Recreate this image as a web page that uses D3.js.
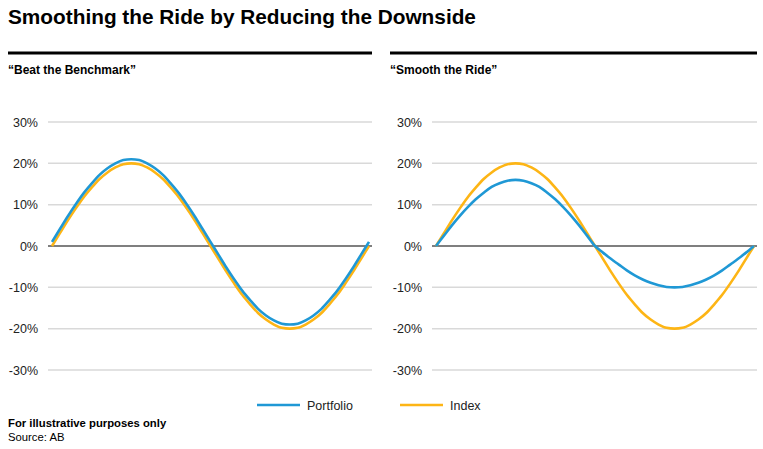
<!DOCTYPE html>
<html>
<head>
<meta charset="utf-8">
<script src="https://cdn.jsdelivr.net/npm/d3@7"></script>
<style>
  body { margin: 0; background: #fff; }
  text { font-family: "Liberation Sans", Arial, sans-serif; }
</style>
</head>
<body>
<svg id="chart" width="763" height="449"></svg>
<script>
// y ticks shared by both panels
var yTicks = [-30, -20, -10, 0, 10, 20, 30];

// left panel: "Beat the Benchmark"
var leftIndex = [0, 3.1, 6.2, 9.1, 11.8, 14.1, 16.2, 17.8, 19.0, 19.8, 20, 19.8, 19.0, 17.8, 16.2, 14.1, 11.8, 9.1, 6.2, 3.1,
  0, -3.1, -6.2, -9.1, -11.8, -14.1, -16.2, -17.8, -19.0, -19.8, -20, -19.8, -19.0, -17.8, -16.2, -14.1, -11.8, -9.1, -6.2, -3.1, 0];
var leftPortfolio = [1, 4.1, 7.2, 10.1, 12.8, 15.1, 17.2, 18.8, 20.0, 20.8, 21, 20.8, 20.0, 18.8, 17.2, 15.1, 12.8, 10.1, 7.2, 4.1,
  1, -2.1, -5.2, -8.1, -10.8, -13.1, -15.2, -16.8, -18.0, -18.8, -19, -18.8, -18.0, -16.8, -15.2, -13.1, -10.8, -8.1, -5.2, -2.1, 1];

// right panel: "Smooth the Ride"
var rightIndex = [0, 3.1, 6.2, 9.1, 11.8, 14.1, 16.2, 17.8, 19.0, 19.8, 20, 19.8, 19.0, 17.8, 16.2, 14.1, 11.8, 9.1, 6.2, 3.1,
  0, -3.1, -6.2, -9.1, -11.8, -14.1, -16.2, -17.8, -19.0, -19.8, -20, -19.8, -19.0, -17.8, -16.2, -14.1, -11.8, -9.1, -6.2, -3.1, 0];
var rightPortfolio = [0, 2.5, 5.0, 7.3, 9.4, 11.3, 12.9, 14.3, 15.2, 15.8, 16, 15.8, 15.2, 14.3, 12.9, 11.3, 9.4, 7.3, 5.0, 2.5,
  0, -1.6, -3.1, -4.5, -5.9, -7.1, -8.1, -8.9, -9.5, -9.9, -10, -9.9, -9.5, -8.9, -8.1, -7.1, -5.9, -4.5, -3.1, -1.6, 0];

var seriesNames = ["Portfolio", "Index"];
var blue = "#1f98d5", gold = "#fdb515";

var svg = d3.select("#chart");

svg.append("text")
    .attr("x", 8).attr("y", 24)
    .style("font-size", "20.8px").style("font-weight", "bold")
    .text("Smoothing the Ride by Reducing the Downside");

var y = d3.scaleLinear().domain([-30, 30]).range([370, 122]);

function panel(left, right, labelX, title, index, portfolio, ruleL, ruleR) {
  var g = svg.append("g");

  g.append("line")
      .attr("x1", ruleL).attr("x2", ruleR)
      .attr("y1", 53).attr("y2", 53)
      .style("stroke", "#000").style("stroke-width", 3);

  g.append("text")
      .attr("x", ruleL).attr("y", 74)
      .style("font-size", "12px").style("font-weight", "bold")
      .text(title);

  var x = d3.scaleLinear().domain([0, index.length - 1]).range([left + 4, right - 3]);

  g.selectAll(".grid")
      .data(yTicks)
    .enter().append("line")
      .attr("x1", left).attr("x2", right)
      .attr("y1", function(d) { return y(d); })
      .attr("y2", function(d) { return y(d); })
      .style("stroke", function(d) { return d === 0 ? "#000" : "#d9d9d9"; })
      .style("stroke-width", function(d) { return d === 0 ? 1.2 : 1.5; });

  var axis = d3.axisLeft(y)
      .tickValues(yTicks)
      .tickSize(0)
      .tickPadding(0)
      .tickFormat(function(d) { return d + "%"; });

  var ax = g.append("g")
      .attr("transform", "translate(" + labelX + ",0)")
      .call(axis);
  ax.select(".domain").remove();
  ax.selectAll("text")
      .style("font-size", "12.5px")
      .style("fill", "#222")
      .style("font-family", "Liberation Sans, Arial, sans-serif");

  var line = d3.line()
      .x(function(d, i) { return x(i); })
      .y(function(d) { return y(d); })
      .curve(d3.curveMonotoneX);

  g.append("path")
      .datum(index)
      .attr("d", line)
      .style("fill", "none").style("stroke", gold).style("stroke-width", 2.6);

  g.append("path")
      .datum(portfolio)
      .attr("d", line)
      .style("fill", "none").style("stroke", blue).style("stroke-width", 2.6);
}

panel(48, 372, 38, "\u201cBeat the Benchmark\u201d", leftIndex, leftPortfolio, 8, 372);
panel(432, 757, 422, "\u201cSmooth the Ride\u201d", rightIndex, rightPortfolio, 390, 757);

// legend
var legend = svg.append("g");
var legendX = [257, 400];
var legendColors = [blue, gold];
seriesNames.forEach(function(name, i) {
  legend.append("line")
      .attr("x1", legendX[i]).attr("x2", legendX[i] + 43)
      .attr("y1", 405).attr("y2", 405)
      .style("stroke", legendColors[i]).style("stroke-width", 2.6);
  legend.append("text")
      .attr("x", legendX[i] + 50).attr("y", 409.5)
      .style("font-size", "12.5px")
      .style("fill", "#222")
      .text(name);
});

svg.append("text")
    .attr("x", 8).attr("y", 427)
    .style("font-size", "11.3px").style("font-weight", "bold")
    .text("For illustrative purposes only");

svg.append("text")
    .attr("x", 8).attr("y", 441)
    .style("font-size", "11.3px")
    .text("Source: AB");
</script>
</body>
</html>
